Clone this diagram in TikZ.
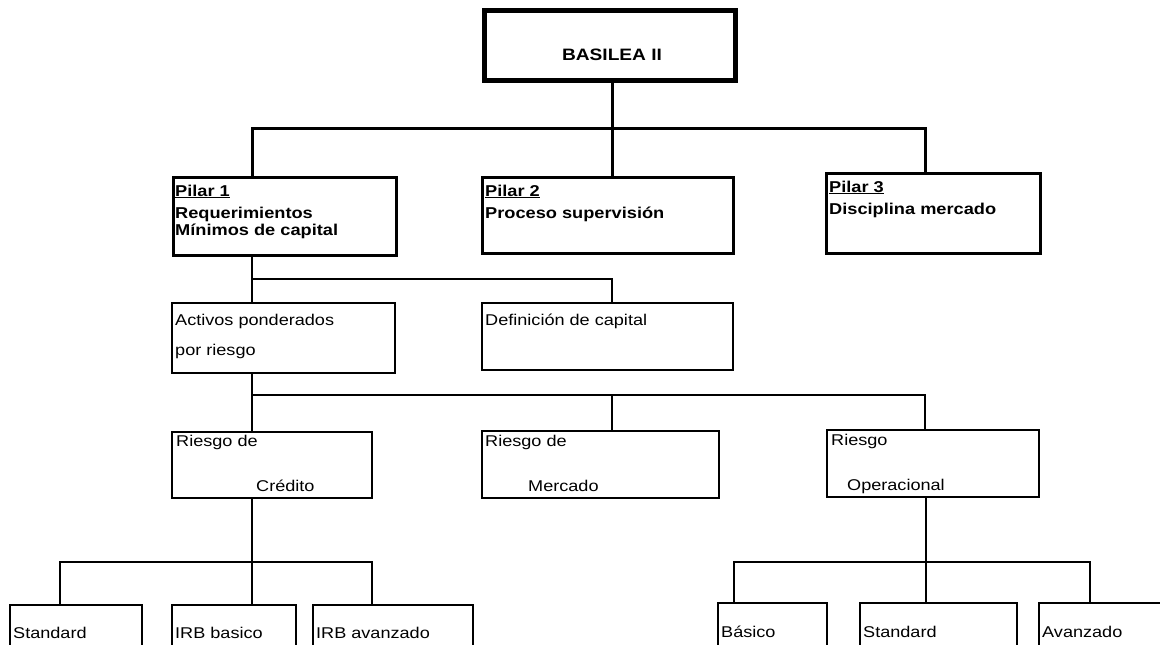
\documentclass[tikz,border=0pt]{standalone}
\usepackage{fontspec}
\setmainfont{Liberation Sans}[FakeStretch=1.16]
\begin{document}
\begin{tikzpicture}[x=1pt,y=-1pt,
  box/.style={draw, line width=2pt, inner sep=0pt, rectangle},
  pbox/.style={box, line width=3pt},
  txt/.style={anchor=base west, inner sep=0pt, font=\fontsize{15.6}{18}\selectfont},
  btxt/.style={anchor=base west, inner sep=0pt, font=\fontsize{15.7}{18}\selectfont\bfseries},
  con/.style={line width=2pt},
  tcon/.style={line width=3pt}]
\useasboundingbox (0,0) rectangle (1160,645);
\clip (0,0) rectangle (1160,645);
% boxes
\node[box, line width=5pt, minimum width=251pt, minimum height=70pt] (basilea) at (609.5,45) {};
\node[pbox, minimum width=223pt, minimum height=78pt] (p1) at (284.5,216) {};
\node[pbox, minimum width=251pt, minimum height=76pt] (p2) at (607.5,215) {};
\node[pbox, minimum width=214pt, minimum height=80pt] (p3) at (933,213) {};
\node[box, minimum width=223pt, minimum height=70pt] (act) at (283.5,338) {};
\node[box, minimum width=251pt, minimum height=67pt] (def) at (607.5,336.5) {};
\node[box, minimum width=200pt, minimum height=66pt] (cre) at (272,465) {};
\node[box, minimum width=237pt, minimum height=67pt] (mer) at (600.5,464.5) {};
\node[box, minimum width=212pt, minimum height=67pt] (ope) at (933,463.5) {};
\node[box, minimum width=132pt, minimum height=60pt] (std1) at (76,635) {};
\node[box, minimum width=124pt, minimum height=60pt] (irbb) at (234,635) {};
\node[box, minimum width=160pt, minimum height=60pt] (irba) at (393,635) {};
\node[box, minimum width=109pt, minimum height=62pt] (bas) at (772.5,634) {};
\node[box, minimum width=157pt, minimum height=62pt] (std2) at (938.5,634) {};
\node[box, minimum width=136pt, minimum height=62pt] (ava) at (1107,634) {};
% junction coordinates
\coordinate (xa) at (252,0);
\coordinate (xb) at (612,0);
\coordinate (xc) at (925,0);
\coordinate (xd) at (926,0);
\coordinate (xe) at (60,0);
\coordinate (xf) at (372,0);
\coordinate (xg) at (734,0);
\coordinate (xh) at (1090,0);
\coordinate (b1) at (0,128);
\coordinate (b2) at (0,279);
\coordinate (b3) at (0,395);
\coordinate (b4) at (0,562);
% connectors
\draw[tcon] (basilea.south -| xb) -- (p2.north -| xb);
\draw[tcon] (p1.north -| xa) -- (xa |- b1) -- (xc |- b1) -- (p3.north -| xc);
\draw[con] (p1.south -| xa) -- (act.north -| xa);
\draw[con] (xa |- b2) -- (xb |- b2) -- (def.north -| xb);
\draw[con] (act.south -| xa) -- (cre.north -| xa);
\draw[con] (xa |- b3) -- (xc |- b3) -- (ope.north -| xc);
\draw[con] (xb |- b3) -- (mer.north -| xb);
\draw[con] (cre.south -| xa) -- (irbb.north -| xa);
\draw[con] (std1.north -| xe) -- (xe |- b4) -- (xf |- b4) -- (irba.north -| xf);
\draw[con] (ope.south -| xd) -- (std2.north -| xd);
\draw[con] (bas.north -| xg) -- (xg |- b4) -- (xh |- b4) -- (ava.north -| xh);
% texts
\node[anchor=base, inner sep=0pt, font=\fontsize{16.5}{18}\selectfont\bfseries] (tbas) at (612,60) {BASILEA II};
\node[btxt] (tp1a) at (175,196) {\underline{Pilar 1}};
\node[btxt] (tp1b) at (175,218) {Requerimientos};
\node[btxt] (tp1c) at (175,235) {Mínimos de capital};
\node[btxt] (tp2a) at (485,196) {\underline{Pilar 2}};
\node[btxt] (tp2b) at (485,218) {Proceso supervisión};
\node[btxt] (tp3a) at (829,192) {\underline{Pilar 3}};
\node[btxt] (tp3b) at (829,214) {Disciplina mercado};
\node[txt] (tact1) at (175,325) {Activos ponderados};
\node[txt] (tact2) at (175,355) {por riesgo};
\node[txt] (tdef) at (485,325) {Definición de capital};
\node[txt] (tcre1) at (176,446) {Riesgo de};
\node[txt] (tcre2) at (256,491) {Crédito};
\node[txt] (tmer1) at (485,446) {Riesgo de};
\node[txt] (tmer2) at (528,491) {Mercado};
\node[txt] (tope1) at (831,445) {Riesgo};
\node[txt] (tope2) at (847,490) {Operacional};
\node[txt] (tstd1) at (13,638) {Standard};
\node[txt] (tirbb) at (175,638) {IRB basico};
\node[txt] (tirba) at (316,638) {IRB avanzado};
\node[txt] (tbas2) at (721,637) {Básico};
\node[txt] (tstd2) at (863,637) {Standard};
\node[txt] (tava) at (1042,637) {Avanzado};
\end{tikzpicture}
\end{document}
